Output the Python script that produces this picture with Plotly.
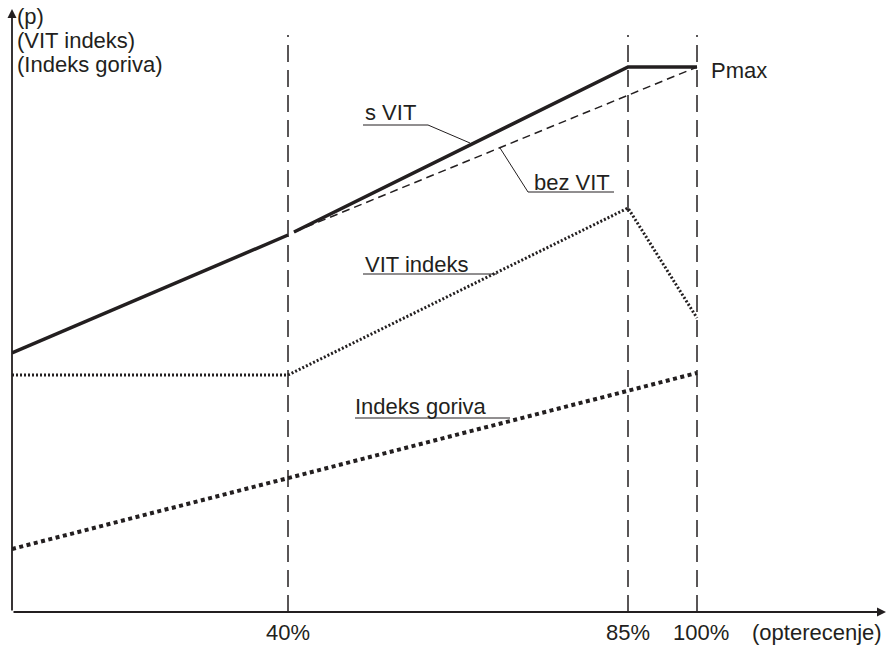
import plotly.graph_objects as go

# schematic x positions (plot units) of 0%, 40%, 85%, 100% load
load_labels = ['40%', '85%', '100%']
load_pos = [276, 616, 685]

s_vit_x = [0, 276, 616, 685]
s_vit_y = [259, 377, 545, 545]

bez_vit_x = [282, 685]
bez_vit_y = [380, 545]

vit_idx_x = [0, 276, 616, 685]
vit_idx_y = [237, 237, 404, 294]

gorivo_x = [0, 685]
gorivo_y = [63, 239]

guide_top = 577

INK = '#231f20'
FONT = 'Arial, Liberation Sans, sans-serif'

fig = go.Figure()

# vertical dashed guides
gx, gy = [], []
for p in load_pos:
    gx += [p, p, None]
    gy += [0, guide_top, None]
fig.add_trace(go.Scatter(x=gx, y=gy, mode='lines',
                         line=dict(color=INK, width=1.5, dash='17px,8px')))

fig.add_trace(go.Scatter(x=gorivo_x, y=gorivo_y, mode='lines',
                         line=dict(color=INK, width=4, dash='4px,3.5px')))
fig.add_trace(go.Scatter(x=vit_idx_x, y=vit_idx_y, mode='lines',
                         line=dict(color=INK, width=3, dash='2px,2px')))
fig.add_trace(go.Scatter(x=bez_vit_x, y=bez_vit_y, mode='lines',
                         line=dict(color=INK, width=1.5, dash='8px,5px')))
fig.add_trace(go.Scatter(x=s_vit_x[:2], y=s_vit_y[:2], mode='lines',
                         line=dict(color=INK, width=3.5)))
fig.add_trace(go.Scatter(x=[282] + s_vit_x[2:], y=[380] + s_vit_y[2:], mode='lines',
                         line=dict(color=INK, width=3.5)))

# leader lines (underline + pointer)
leaders = [
    ([351, 416, 458], [487, 487, 469]),   # s VIT
    ([602, 516, 488], [420, 420, 464]),   # bez VIT
    ([351, 485], [338, 338]),             # VIT indeks
    ([343, 498], [194, 194]),             # Indeks goriva
]
for lx, ly in leaders:
    fig.add_trace(go.Scatter(x=lx, y=ly, mode='lines',
                             line=dict(color=INK, width=1)))

ann = []
def txt(x, y, s, anchor='left'):
    ann.append(dict(x=x, y=y, text=s, showarrow=False, xanchor=anchor,
                    yanchor='middle', font=dict(family=FONT, size=22, color=INK)))

txt(3, 596, '(p)')
txt(3, 572, '(VIT indeks)')
txt(3, 548, '(Indeks goriva)')
txt(697, 542, 'Pmax')
txt(351, 500, 's VIT')
txt(520, 430, 'bez VIT')
txt(351, 348, 'VIT indeks')
txt(341, 206, 'Indeks goriva')
for lab, p in zip(load_labels, load_pos):
    txt(p + (4 if lab == '100%' else 0), -20, lab, 'center')
txt(872, -20, '(opterecenje)', 'right')

# axes with arrows
ann.append(dict(x=874, y=0, ax=0, ay=0, axref='x', ayref='y', xref='x', yref='y',
                showarrow=True, arrowhead=2, arrowsize=1, arrowwidth=1.8,
                arrowcolor=INK, text=''))
ann.append(dict(x=0, y=603, ax=0, ay=0, axref='x', ayref='y', xref='x', yref='y',
                showarrow=True, arrowhead=2, arrowsize=1, arrowwidth=1.8,
                arrowcolor=INK, text=''))

fig.update_layout(
    width=886, height=645,
    margin=dict(l=12, r=0, t=0, b=0),
    paper_bgcolor='white', plot_bgcolor='white',
    showlegend=False,
    annotations=ann,
    xaxis=dict(range=[0, 874], visible=False, fixedrange=True),
    yaxis=dict(range=[-33, 612], visible=False, fixedrange=True),
)

fig.write_html('out.html', config={'displayModeBar': False},
               post_script="document.body.style.margin='0';")
